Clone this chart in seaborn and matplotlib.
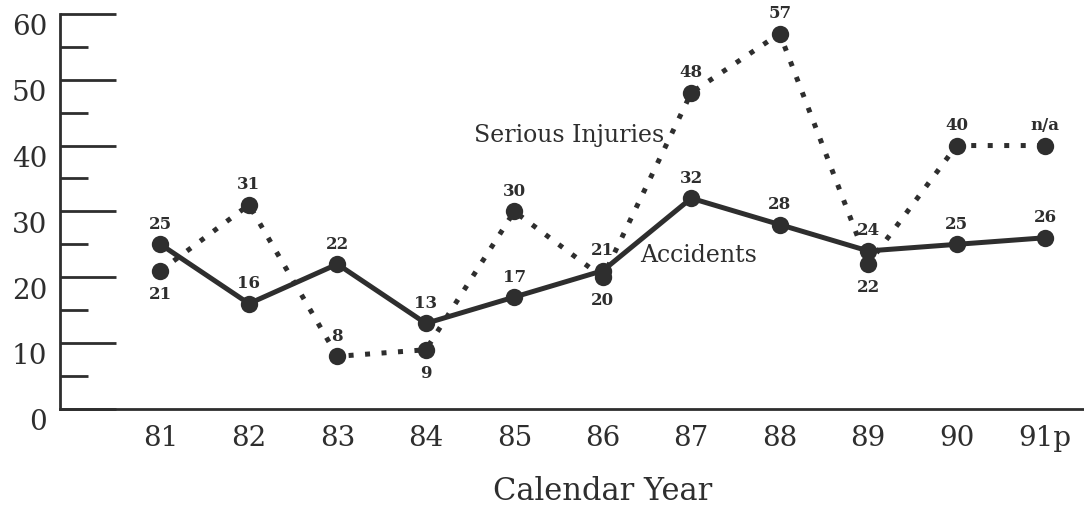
import numpy as np
import pandas as pd
import seaborn as sns
import matplotlib.pyplot as plt
from matplotlib.transforms import ScaledTranslation

# data
years = [81, 82, 83, 84, 85, 86, 87, 88, 89, 90, 91]
year_labels = ['81', '82', '83', '84', '85', '86', '87', '88', '89', '90', '91p']
accidents = [25, 16, 22, 13, 17, 21, 32, 28, 24, 25, 26]
injuries = [21, 31, 8, 9, 30, 20, 48, 57, 22, 40, 40]
injury_labels = ['21', '31', '8', '9', '30', '20', '48', '57', '22', '40', 'n/a']
injury_below = [True, False, False, True, False, True, False, False, True, False, False]

INK = '#2e2e2e'

sns.set_theme(style='white')
plt.rcParams['font.family'] = ['DejaVu Serif']

fig = plt.figure(figsize=(10.84, 5.10), dpi=100)
ax = fig.add_axes([0.055, 0.196, 0.945, 0.775])

df = pd.DataFrame({'year': years, 'accidents': accidents, 'injuries': injuries})

sns.lineplot(data=df, x='year', y='injuries', ax=ax, color=INK, linewidth=3.6,
             linestyle=(0, (1, 2.3)), marker='o', markersize=12.5, markeredgewidth=0)
sns.lineplot(data=df, x='year', y='accidents', ax=ax, color=INK, linewidth=3.6,
             marker='o', markersize=12.5, markeredgewidth=0)

# value labels
for x, y in zip(years, accidents):
    ax.annotate(str(y), (x, y), xytext=(0, 9), textcoords='offset points',
                ha='center', va='bottom', fontsize=12, fontweight='bold', color=INK)
for x, y, lab, below in zip(years, injuries, injury_labels, injury_below):
    off = (0, -10) if below else (0, 9)
    ax.annotate(lab, (x, y), xytext=off, textcoords='offset points',
                ha='center', va='top' if below else 'bottom',
                fontsize=12, fontweight='bold', color=INK)

ax.text(86.70, 41.7, 'Serious Injuries', fontsize=17, color=INK, ha='right', va='center')
ax.text(86.42, 23.5, 'Accidents', fontsize=17, color=INK, ha='left', va='center')

ax.set_xlim(79.86, 91.44)
ax.set_ylim(0, 60)
ax.set_yticks(np.arange(0, 61, 10))
ax.set_yticks(np.arange(5, 60, 10), minor=True)
ax.set_xticks(years)
ax.set_xticklabels(year_labels)

ax.tick_params(axis='y', which='major', direction='in', length=40, width=2,
               color=INK, labelsize=20, labelcolor=INK, pad=9, left=True)
ax.tick_params(axis='y', which='minor', direction='in', length=20, width=2,
               color=INK, left=True)
ax.tick_params(axis='x', length=0, labelsize=20, labelcolor=INK, pad=11)

# the scanned y labels sit a little below their ticks
shift = ScaledTranslation(0, -7 / 72, fig.dpi_scale_trans)
for lab in ax.get_yticklabels():
    lab.set_transform(lab.get_transform() + shift)

sns.despine(ax=ax)
for side in ['left', 'bottom']:
    ax.spines[side].set_color(INK)
    ax.spines[side].set_linewidth(2)

ax.set_xlabel('Calendar Year', fontsize=22, color=INK)
ax.xaxis.set_label_coords(0.53, -0.168)
ax.set_ylabel('')

fig.savefig('out.png', dpi=100)
